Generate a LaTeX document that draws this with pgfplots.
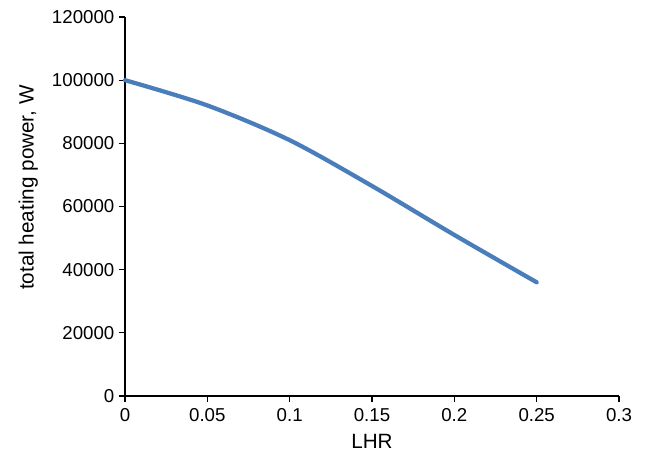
\documentclass[border=0pt]{standalone}
\usepackage{fontspec}
\setmainfont{Liberation Sans}
\usepackage{pgfplots}
\pgfplotsset{compat=1.18}
\definecolor{exblue}{RGB}{74,126,187}
\begin{document}
\begin{tikzpicture}[x=1pt,y=1pt]
\useasboundingbox (-93.75,-48.75) rectangle (390.75,297);
\begin{axis}[
  at={(0,0)}, anchor=south west,
  scale only axis,
  width=370.5pt, height=284.25pt,
  xmin=0, xmax=0.3, ymin=0, ymax=120000,
  axis x line*=bottom, axis y line*=left,
  axis line style={line width=1.2pt},
  tick style={line width=0.9pt, black},
  tick align=outside,
  major tick length=4.5pt,
  xtick={0,0.05,0.1,0.15,0.2,0.25,0.3},
  ytick={0,20000,40000,60000,80000,100000,120000},
  xticklabels={0,0.05,0.1,0.15,0.2,0.25,0.3},
  scaled y ticks=false,
  yticklabel style={/pgf/number format/fixed,/pgf/number format/1000 sep={}},
  xticklabel style={yshift=-1.5pt},
  /pgf/number format/assume math mode=true,
  tick label style={font=\fontsize{14}{14}\selectfont},
  xlabel={LHR},
  ylabel={total heating power, W},
  xlabel style={font=\fontsize{15.5}{15.5}\selectfont, at={(axis description cs:0.5,0)}, anchor=center, yshift=-34pt},
  ylabel style={font=\fontsize{15.5}{15.5}\selectfont, at={(axis description cs:-0.196,0.55)}, anchor=center, rotate=0},
  clip=false,
]
\addplot[exblue, line width=3.2pt, smooth, line cap=round, line join=round] coordinates {
 (0,100000) (0.05,92000) (0.1,81000) (0.15,66500) (0.2,51000) (0.25,36000)
};
\end{axis}
\end{tikzpicture}
\end{document}
